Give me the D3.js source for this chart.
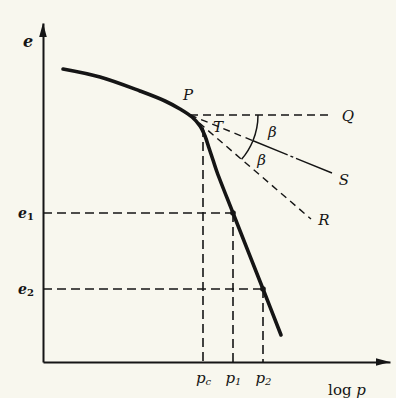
<!DOCTYPE html>
<html>
<head>
<meta charset="utf-8">
<script src="https://cdn.jsdelivr.net/npm/d3@7"></script>
<style>
  html, body { margin: 0; padding: 0; background: #f8f7ee; }
  svg { display: block; }
  .lbl { font-family: "DejaVu Serif", "Liberation Serif", serif; font-style: italic; fill: #151515; }
</style>
</head>
<body>
<svg id="chart" width="396" height="398"></svg>
<script>
// e – log p compression curve (void ratio against log of pressure)
const curveLogP = [0.20, 0.57, 0.97, 1.22, 1.37, 1.49, 1.57, 1.62, 1.66, 1.70, 1.74, 1.90, 2.20, 2.38];
const curveE    = [2.93, 2.85, 2.71, 2.61, 2.53, 2.45, 2.36, 2.26, 2.14, 2.02, 1.90, 1.49, 0.73, 0.27];

// Casagrande construction: point of maximum curvature P, intersection T,
// and the far ends of the horizontal (Q), bisector (S) and tangent (R) lines
const pointP = [1.47, 2.47];
const pointT = [1.60, 2.34];
const endQ   = [2.88, 2.47];
const endS   = [2.89, 1.89];
const endR   = [2.68, 1.43];

// pressures and void ratios
const pressureTicks  = [1.60, 1.90, 2.20];
const pressureLabels = [["p", "c"], ["p", "1"], ["p", "2"]];
const voidTicks      = [1.49, 0.73];
const voidLabels     = [["e", "1"], ["e", "2"]];

const svg = d3.select("#chart");
const ink = "#151515";

const x = d3.scaleLinear().domain([0, 3.47]).range([43, 390]);
const y = d3.scaleLinear().domain([0, 3.39]).range([362, 23]);

// ---- axes ----
const xAxis = svg.append("g")
  .attr("transform", `translate(0,${y(0)})`)
  .call(d3.axisBottom(x).tickValues(pressureTicks).tickSize(0).tickSizeOuter(0)
        .tickPadding(10).tickFormat(() => ""));
const yAxis = svg.append("g")
  .attr("transform", `translate(${x(0)},0)`)
  .call(d3.axisLeft(y).tickValues(voidTicks).tickSize(0).tickSizeOuter(0)
        .tickPadding(9).tickFormat(() => ""));

[xAxis, yAxis].forEach(g => {
  g.select(".domain").attr("stroke", ink).attr("stroke-width", 2);
  g.attr("font-size", null).attr("font-family", null);
});

xAxis.selectAll(".tick text").each(function (d, i) {
  const t = d3.select(this).attr("class", "lbl").attr("font-size", 15).attr("fill", ink);
  t.append("tspan").text(pressureLabels[i][0]);
  t.append("tspan").attr("font-size", 10).attr("dy", 2).text(pressureLabels[i][1]);
});
yAxis.selectAll(".tick text").each(function (d, i) {
  const t = d3.select(this).attr("class", "lbl").attr("font-size", 14).attr("fill", ink)
    .attr("font-weight", "bold").attr("dy", "0.3em");
  t.append("tspan").text(voidLabels[i][0]);
  t.append("tspan").attr("font-size", 10).attr("font-style", "normal").attr("dy", 2).text(voidLabels[i][1]);
});

// arrowheads
const [x0, x1] = x.range();
const [y0, y1] = y.range();
svg.append("path")
  .attr("d", `M${x0},${y1} L${x0 - 3.8},${y1 + 14} L${x0 + 3.8},${y1 + 14} Z`)
  .attr("fill", ink);
svg.append("path")
  .attr("d", `M${x1},${y0} L${x1 - 14},${y0 - 3.8} L${x1 - 14},${y0 + 3.8} Z`)
  .attr("fill", ink);

// axis titles
svg.append("text").attr("class", "lbl")
  .attr("x", x0 - 15).attr("y", y1 + 24)
  .attr("text-anchor", "middle").attr("font-size", 16).attr("font-weight", "bold")
  .text("e");
const logT = svg.append("text").attr("class", "lbl")
  .attr("x", x(3.04)).attr("y", 395).attr("text-anchor", "middle").attr("font-size", 15);
logT.append("tspan").attr("font-style", "normal").text("log ");
logT.append("tspan").text("p");

// ---- dashed read-off lines ----
const dashed = svg.append("g").attr("fill", "none").attr("stroke", ink)
  .attr("stroke-width", 1.6).attr("stroke-dasharray", "9,5");
voidTicks.forEach((e, i) => {
  const p = pressureTicks[i + 1];
  dashed.append("line").attr("x1", x(0)).attr("y1", y(e)).attr("x2", x(p)).attr("y2", y(e));
  dashed.append("line").attr("x1", x(p)).attr("y1", y(e)).attr("x2", x(p)).attr("y2", y(0));
});
dashed.append("line")
  .attr("x1", x(pressureTicks[0])).attr("y1", y(pointT[1]))
  .attr("x2", x(pressureTicks[0])).attr("y2", y(0));

// ---- construction lines from P ----
const Px = x(pointP[0]), Py = y(pointP[1]);
const cons = svg.append("g").attr("fill", "none").attr("stroke", ink).attr("stroke-width", 1.4);
cons.append("line").attr("x1", Px).attr("y1", Py).attr("x2", x(endQ[0])).attr("y2", y(endQ[1]))
  .attr("stroke-dasharray", "8,5");
cons.append("line").attr("x1", Px).attr("y1", Py).attr("x2", x(endR[0])).attr("y2", y(endR[1]))
  .attr("stroke-dasharray", "7,5");
// bisector: dashed near P, chain line further out
const sMid = d3.interpolate([Px, Py], [x(endS[0]), y(endS[1])])(0.44);
cons.append("line").attr("x1", Px).attr("y1", Py).attr("x2", sMid[0]).attr("y2", sMid[1])
  .attr("stroke-dasharray", "7,5");
cons.append("line").attr("x1", sMid[0]).attr("y1", sMid[1]).attr("x2", x(endS[0])).attr("y2", y(endS[1]))
  .attr("stroke-dasharray", "38,3,3,3,200");
// extension of the straight virgin branch up to T
cons.append("line").attr("x1", x(pointT[0])).attr("y1", y(pointT[1]))
  .attr("x2", x(curveLogP[10])).attr("y2", y(curveE[10]))
  .attr("stroke-dasharray", "5,3");

// angle arcs
const aS = Math.atan2(y(endS[1]) - Py, x(endS[0]) - Px);
const aR = Math.atan2(y(endR[1]) - Py, x(endR[0]) - Px);
const arcR = 68;
[[0, aS], [aS, aR]].forEach(([a0, a1]) => {
  const p = d3.path();
  p.arc(Px, Py, arcR, a0, a1, false);
  cons.append("path").attr("d", p.toString()).attr("stroke-width", 1.5);
});

// ---- compression curve ----
const pts = curveLogP.map((p, i) => [p, curveE[i]]);
svg.append("path")
  .datum(pts)
  .attr("fill", "none").attr("stroke", ink).attr("stroke-width", 3.6)
  .attr("stroke-linecap", "round").attr("stroke-linejoin", "round")
  .attr("d", d3.line().x(d => x(d[0])).y(d => y(d[1])).curve(d3.curveCatmullRom.alpha(0.5)));

// read-off points
voidTicks.forEach((e, i) => {
  svg.append("circle").attr("cx", x(pressureTicks[i + 1])).attr("cy", y(e)).attr("r", 2.8).attr("fill", ink);
});

// ---- point labels ----
const labels = [
  { t: "P", at: pointP, dx: -2, dy: -15 },
  { t: "T", at: pointT, dx: 15, dy: 4 },
  { t: "Q", at: endQ, dx: 17, dy: 6 },
  { t: "S", at: endS, dx: 12, dy: 12 },
  { t: "R", at: endR, dx: 13, dy: 6 },
];
labels.forEach(l => {
  svg.append("text").attr("class", "lbl")
    .attr("x", x(l.at[0]) + l.dx).attr("y", y(l.at[1]) + l.dy)
    .attr("text-anchor", "middle").attr("font-size", 15).text(l.t);
});
// β marks inside each arc
[[0, aS], [aS, aR]].forEach(([a0, a1]) => {
  const am = (a0 + a1) / 2, rr = arcR + 16;
  svg.append("text").attr("class", "lbl")
    .attr("x", Px + rr * Math.cos(am)).attr("y", Py + rr * Math.sin(am) + 6)
    .attr("text-anchor", "middle").attr("font-size", 15).text("β");
});
</script>
</body>
</html>
